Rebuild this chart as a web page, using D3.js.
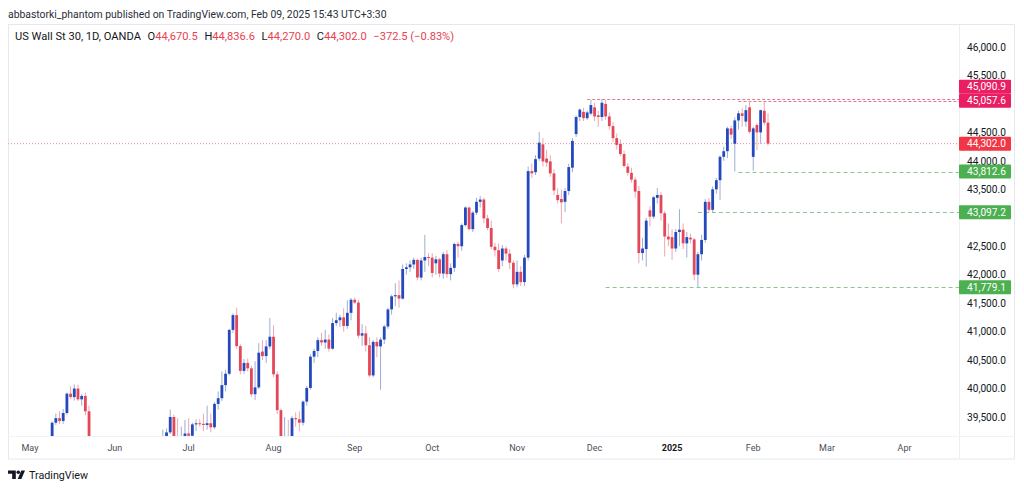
<!DOCTYPE html>
<html><head><meta charset="utf-8">
<script src="https://cdn.jsdelivr.net/npm/d3@7"></script>
<style>html,body{margin:0;padding:0;background:#fff;} svg{display:block;font-family:Roboto,"Liberation Sans",sans-serif;}</style>
</head><body><svg id="c" width="1024" height="490"></svg>
<script>
// ---------------- DATA ----------------
const START = "2024-05-01", END = "2025-04-30";
const CLOSED_DAYS = ["2024-12-25", "2025-01-01"];
const TITLE = "abbastorki_phantom published on TradingView.com, Feb 09, 2025 15:43 UTC+3:30";
const SYMBOL = "US Wall St 30, 1D, OANDA";
const LAST = {o: "44,670.5", h: "44,836.6", l: "44,270.0", c: "44,302.0", chg: "\u2212372.5 (\u22120.83%)"};
const PRICE_TICKS = [39500, 40000, 40500, 41000, 41500, 42000, 42500, 43000, 43500, 44000, 44500, 45000, 45500, 46000];

const OPEN = [
// May
37820,37900,38230,38680,38850,38880,39060,39400,39480,39430,39570,39910,39850,40000,39810,39870,39600,39060,39080,39050,38850,38440,38110,
// Jun
38690,38570,38710,38810,38890,38800,38870,38750,38710,38650,38590,38780,38830,38900,39130,39230,39500,39130,39120,39160,
// Jul
39210,39170,39370,39390,39380,39360,39390,39320,39730,39830,40060,40260,41030,41290,40745,40310,40450,40355,39900,40020,40650,40570,40740,
// Aug
40910,40250,39620,38700,39000,38770,39480,39460,39400,39770,40010,40560,40660,40850,40810,40860,40700,41150,41200,41250,41100,41330,
// Sep
41560,41510,40930,40970,40760,40230,40820,40740,40860,41090,41390,41620,41640,41580,42100,42130,42180,42260,41950,42250,42310,
// Oct
42300,42200,42270,42020,42360,42010,42120,42540,42500,42870,43180,42800,43090,43280,43320,42990,42820,42490,42430,42250,42460,42370,42210,
// Nov
41830,42050,41870,42300,43820,43800,44040,44290,44040,43990,43780,43400,43330,43280,43470,43880,44470,44770,44860,44750,44830,
// Dec
44940,44800,44770,45000,44780,44610,44400,44300,44120,43900,43790,43670,43470,42380,42450,43130,43020,43350,43400,43080,42670,
// Jan
42660,42460,42750,42790,42550,42650,42620,42000,42360,42610,43280,43140,43500,43660,44070,44170,44570,44300,44710,44835,44690,44940,
// Feb
44070,44630,44500,44880,44670.5];
const HIGH = [
38380,38290,38780,38900,39000,39100,39420,39560,39600,39640,39930,40040,40070,40070,39900,39930,39700,39160,39150,39100,38900,38500,38720,
38730,38760,38880,38950,39100,38950,38900,39150,38780,38700,38850,38900,38950,39280,39300,39630,39540,39480,39330,39450,
39480,39400,39460,39460,39560,39700,39560,39760,39950,40300,40330,41050,41320,41420,40780,40520,40530,40400,40480,40800,40850,40850,41240,
41110,40300,39650,39500,39450,39520,39580,39600,39790,40050,40600,40700,40900,40980,41030,40950,41240,41330,41300,41410,41550,41590,
41600,41560,41130,41100,40900,40850,40900,40900,41120,41420,41650,41850,41900,42180,42200,42250,42300,42280,42300,42700,42380,
42380,42330,42300,42400,42430,42200,42560,42580,42900,43200,43200,43120,43350,43380,43350,43050,42950,42560,42550,42520,42500,42450,42250,
42250,42150,42350,43900,43950,44100,44510,44400,44190,44100,43850,43520,43500,43520,43950,44400,44800,44920,44930,44880,45070,
45020,44880,45090.9,45070,44850,44680,44480,44380,44180,43960,43880,43720,43560,42650,43000,43200,43380,43520,43450,43120,42900,
42800,42800,43150,42900,42750,42720,42650,42400,42700,43330,43350,43550,43700,44100,44250,44600,44620,44760,44880,44920,44980,45057.6,
44600,44660,44900,45040,44836.6];
const LOW = [
37610,37850,38200,38600,38800,38750,38990,39360,39380,39380,39540,39820,39790,39780,39700,39530,38950,38900,38980,38700,38380,38000,37970,
38300,38400,38550,38700,38650,38600,38500,38660,38400,38350,38430,38700,38780,38850,39050,39200,39050,39050,39050,39080,
39050,39050,39250,39330,39250,39280,39230,39290,39630,39780,39950,40230,40980,40700,40250,40260,40300,39850,39800,39990,40500,40450,40700,
40200,39550,38400,38600,38700,38700,39330,39250,39350,39700,39980,40450,40550,40750,40700,40650,40680,41100,41080,41000,41050,41200,
41480,40880,40750,40650,40200,40200,40550,39980,40780,41050,41300,41450,41420,41560,42000,42050,42100,41900,41900,42050,42150,
41950,42000,41950,41930,41950,41900,42050,42300,42420,42850,42780,42750,43050,43180,42900,42780,42450,42320,42050,42150,42250,42100,41760,
41780,41800,41800,42250,43700,43750,44000,43900,43900,43720,43400,43250,42900,43100,43400,43800,44420,44700,44700,44720,44800,
44700,44600,44700,44720,44550,44330,44200,44080,43880,43740,43620,43350,42200,42250,42140,42850,42980,43250,42950,42320,42500,
42260,42400,42500,42450,42300,42550,41900,41779.1,42250,42560,43097.2,43100,43420,43310,44000,44050,44380,43812.6,44550,44600,44600,44480,
43830,44190,44300,44620,44270.0];
const CLOSE = [
37900,38230,38680,38850,38880,39060,39400,39480,39430,39570,39910,39850,40000,39810,39870,39600,39060,39080,39050,38850,38440,38110,38690,
38570,38710,38810,38890,38800,38870,38750,38710,38650,38590,38780,38830,38900,39130,39230,39500,39130,39120,39160,39210,
39170,39370,39390,39380,39360,39390,39320,39730,39830,40060,40260,41030,41290,40745,40310,40450,40355,39900,40020,40630,40570,40740,40910,
40250,39620,38700,39000,38770,39480,39460,39400,39770,40010,40560,40660,40850,40810,40860,40700,41150,41200,41250,41100,41330,41560,
41510,40930,40970,40760,40230,40820,40740,40860,41090,41390,41620,41640,41580,42100,42130,42180,42260,41950,42250,42310,42300,
42030,42270,42020,42360,42010,42120,42540,42500,42870,43180,42800,43090,43280,43320,42990,42820,42490,42430,42100,42460,42370,42210,41830,
42050,41870,42300,43820,43780,44030,44320,43990,43970,43780,43480,43310,43270,43470,43890,44350,44770,44900,44750,44850,44980,
44780,44770,45020,44780,44610,44400,44280,44120,43910,43790,43670,43460,42380,42460,42950,43020,43360,43400,43080,42670,42620,
42460,42750,42790,42550,42660,42620,42000,42360,42610,43280,43140,43500,43660,44070,44170,44570,44460,44710,44835,44790,44890,44510,
44570,44500,44890,44670,44302.0];

// horizontal levels drawn on the chart (value, first date)
const LEVEL_VALUES = [45090.9, 45057.6, 43812.6, 43097.2, 41779.1];
const LEVEL_FROM   = ["2024-11-28", "2025-01-28", "2025-01-28", "2025-01-13", "2024-12-05"];
const LEVEL_KIND   = ["res", "res", "sup", "sup", "sup"];

// ---------------- LAYOUT ----------------
const svg = d3.select("#c");
const fmtDay = d3.timeFormat("%Y-%m-%d");
const parse = d3.timeParse("%Y-%m-%d");
const allDates = d3.timeDay.range(parse(START), d3.timeDay.offset(parse(END), 1))
  .filter(d => d.getDay() !== 0 && d.getDay() !== 6 && !CLOSED_DAYS.includes(fmtDay(d)));
const idxOf = s => allDates.findIndex(d => fmtDay(d) === s);
const bars = CLOSE.map((c, i) => ({i, date: allDates[i], o: OPEN[i], h: HIGH[i], l: LOW[i], c}));

const plot = {left: 8, top: 25, right: 959, bottom: 436};
const x = d3.scaleLinear().domain([0, bars.length - 1]).range([30, 768]);
const y = d3.scaleLinear().domain([39500, 46000]).range([417, 47]);

const UP = "#2349bd", DOWN = "#e5475a", UPW = "#9eadd0", DOWNW = "#f0a6b0";
const RES = "#e91e63", SUP = "#4caf50", LASTC = "#f23645";

// frame
svg.append("rect").attr("x", 8.5).attr("y", 24.5).attr("width", 1006).attr("height", 434.5)
  .attr("fill", "none").attr("stroke", "#e6e8ee");
svg.append("line").attr("x1", plot.right + 0.5).attr("x2", plot.right + 0.5).attr("y1", 25).attr("y2", 459)
  .attr("stroke", "#eceef2");
svg.append("line").attr("x1", 8).attr("x2", 1015).attr("y1", plot.bottom + 0.5).attr("y2", plot.bottom + 0.5)
  .attr("stroke", "#f2f3f6");

svg.append("clipPath").attr("id", "clip").append("rect")
  .attr("x", plot.left).attr("y", plot.top).attr("width", plot.right - plot.left).attr("height", plot.bottom - plot.top);
const g = svg.append("g").attr("clip-path", "url(#clip)");

// last price dotted line
const lastClose = CLOSE[CLOSE.length - 1];
g.append("line").attr("x1", plot.left).attr("x2", plot.right).attr("y1", y(lastClose)).attr("y2", y(lastClose))
  .attr("stroke", "#e88f98").attr("stroke-dasharray", "1,2").attr("stroke-width", 1);

// levels
LEVEL_VALUES.forEach((v, k) => {
  g.append("line").attr("x1", x(idxOf(LEVEL_FROM[k]))).attr("x2", plot.right)
    .attr("y1", Math.round(y(v)) + 0.5).attr("y2", Math.round(y(v)) + 0.5)
    .attr("stroke", LEVEL_KIND[k] === "res" ? "#e07a90" : "#8cc596")
    .attr("stroke-dasharray", LEVEL_KIND[k] === "res" ? "3,2" : "4,3").attr("stroke-width", 1);
});

// candles
const bw = 2.8;
const cg = g.selectAll("g.c").data(bars).join("g");
cg.append("line")
  .attr("x1", d => x(d.i)).attr("x2", d => x(d.i))
  .attr("y1", d => y(d.h)).attr("y2", d => y(d.l))
  .attr("stroke", d => d.c >= d.o ? UPW : DOWNW).attr("stroke-width", 1);
cg.append("rect")
  .attr("x", d => x(d.i) - bw / 2).attr("width", bw)
  .attr("y", d => y(Math.max(d.o, d.c)))
  .attr("height", d => Math.max(1, Math.abs(y(d.o) - y(d.c))))
  .attr("fill", d => d.c >= d.o ? UP : DOWN);

// helper: scale font so text reaches target width
function fit(sel, target) {
  const w = sel.node().getComputedTextLength();
  const fs = parseFloat(sel.attr("font-size"));
  sel.attr("font-size", (fs * target / w).toFixed(2));
  return fs * target / w;
}

// price labels (boxes) with collision shift
const boxH = 14;
const labels = [
  {v: LEVEL_VALUES[0], col: RES}, {v: LEVEL_VALUES[1], col: RES},
  {v: lastClose, col: LASTC},
  {v: LEVEL_VALUES[2], col: SUP}, {v: LEVEL_VALUES[3], col: SUP}, {v: LEVEL_VALUES[4], col: SUP}
].map(d => ({...d, cy: y(d.v)}));
labels.sort((a, b) => b.cy - a.cy);
for (let k = 1; k < labels.length; k++) {
  if (labels[k - 1].cy - labels[k].cy < boxH) labels[k].cy = labels[k - 1].cy - boxH;
}

// price axis (ticks hidden under a price label are not drawn, as on the original)
const axisFs = (() => {
  const t = svg.append("text").attr("font-size", 11).text(d3.format(",.1f")(46000));
  const f = fit(t, 39); t.remove(); return f;
})();
const visibleTicks = PRICE_TICKS.filter(v => labels.every(l => Math.abs(y(v) - l.cy) > 10.5));
const yAxis = svg.append("g").attr("transform", `translate(${plot.right},0)`)
  .call(d3.axisRight(y).tickValues(visibleTicks).tickFormat(d3.format(",.1f")).tickSize(0).tickPadding(8));
yAxis.select(".domain").remove();
yAxis.selectAll("text").attr("font-size", axisFs).attr("fill", "#131722").attr("font-family", "Roboto");

const lb = svg.append("g");
labels.forEach(d => {
  lb.append("rect").attr("x", plot.right).attr("y", d.cy - boxH / 2).attr("width", 52).attr("height", boxH)
    .attr("fill", d.col).attr("rx", 1);
  lb.append("text").attr("x", plot.right + 8).attr("y", d.cy).attr("dy", "0.35em")
    .attr("font-size", axisFs).attr("fill", "#fff").text(d3.format(",.1f")(d.v));
});

// time axis labels (first bar of each month)
const months = [];
allDates.forEach((d, i) => {
  const key = d.getFullYear() * 12 + d.getMonth();
  if (!months.length || months[months.length - 1].key !== key) months.push({key, i, d});
});
const tFs = (() => {
  const t = svg.append("text").attr("font-size", 11).text("May");
  const f = fit(t, 17); t.remove(); return f;
})();
svg.append("g").selectAll("text").data(months.filter(m => x(m.i) < plot.right - 20)).join("text")
  .attr("x", m => x(m.i)).attr("y", 448).attr("dy", "0.35em").attr("text-anchor", "middle")
  .attr("font-size", tFs)
  .attr("fill", m => m.d.getMonth() === 0 ? "#131722" : "#4a4e5a")
  .attr("font-weight", m => m.d.getMonth() === 0 ? "bold" : "normal")
  .text(m => m.d.getMonth() === 0 ? d3.timeFormat("%Y")(m.d) : d3.timeFormat("%b")(m.d));

// title
const tt = svg.append("text").attr("x", 8).attr("y", 18).attr("font-size", 12).attr("fill", "#2a2e39").text(TITLE);
fit(tt, 379);

// legend: one text, sequential segments, fitted to the original width
const RED = "#e8414f";
const leg = svg.append("text").attr("x", 15).attr("y", 40).attr("font-size", 11).attr("fill", "#131722");
leg.append("tspan").text(SYMBOL);
[["O", LAST.o], ["H", LAST.h], ["L", LAST.l], ["C", LAST.c]].forEach(([k, v]) => {
  leg.append("tspan").attr("dx", "0.6em").text(k);
  leg.append("tspan").attr("fill", RED).text(v);
});
leg.append("tspan").attr("dx", "0.6em").attr("fill", RED).text(LAST.chg);
fit(leg, 406);

// TradingView logo
const lg = svg.append("g").attr("fill", "#131722");
lg.append("path").attr("d", "M8,470.5 H15.8 V479 H12.2 V473.8 H8 Z");
lg.append("circle").attr("cx", 18.3).attr("cy", 472.2).attr("r", 1.8);
lg.append("path").attr("d", "M21.3,470.5 H25 L21.4,479 H17.7 Z");
const tv = svg.append("text").attr("x", 29).attr("y", 479).attr("font-size", 13).attr("fill", "#131722").text("TradingView");
fit(tv, 59);
</script></body></html>
